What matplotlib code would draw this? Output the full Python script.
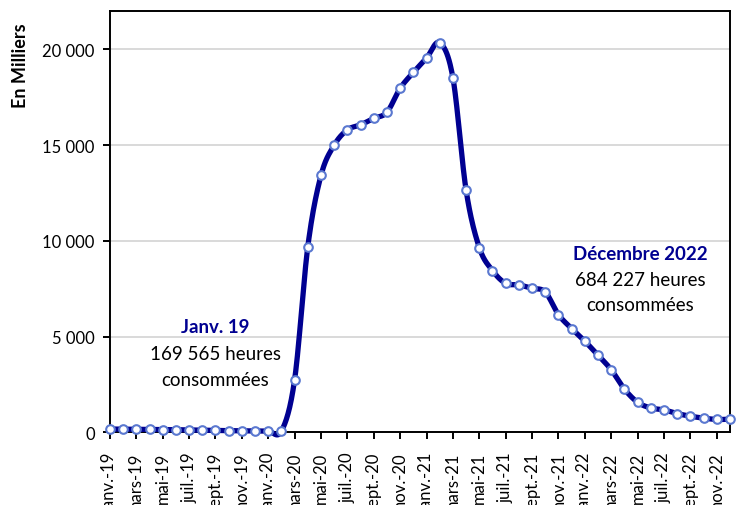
import numpy as np
import matplotlib.pyplot as plt
from matplotlib.ticker import FuncFormatter

plt.rcParams['font.family'] = ['Lato', 'DejaVu Sans']

# heures consommées par mois, en milliers (janv.-19 -> déc.-22)
heures = [170, 160, 155, 150, 145, 135, 120, 110, 95, 85, 80, 75, 70, 60,
          2750, 9700, 13420, 15000, 15800, 16060, 16400, 16720, 17970, 18800,
          19550, 20350, 18520, 12650, 9650, 8450, 7780, 7700, 7520, 7330,
          6150, 5420, 4760, 4030, 3270, 2260, 1570, 1270, 1170, 980,
          840, 740, 670, 684]

etiquettes = ['janv.-19', 'mars-19', 'mai-19', 'juil.-19', 'sept.-19', 'nov.-19',
              'janv.-20', 'mars-20', 'mai-20', 'juil.-20', 'sept.-20', 'nov.-20',
              'janv.-21', 'mars-21', 'mai-21', 'juil.-21', 'sept.-21', 'nov.-21',
              'janv.-22', 'mars-22', 'mai-22', 'juil.-22', 'sept.-22', 'nov.-22']

bleu = '#000091'


def lisse(y, n=24):
    # courbe lissée façon Excel (Catmull-Rom) passant par les points
    y = np.asarray(y, float)
    x = np.arange(len(y), dtype=float)
    px = np.concatenate([[2 * x[0] - x[1]], x, [2 * x[-1] - x[-2]]])
    py = np.concatenate([[2 * y[0] - y[1]], y, [2 * y[-1] - y[-2]]])
    t = np.linspace(0, 1, n, endpoint=False)
    xs, ys = [], []
    for i in range(1, len(px) - 2):
        for p, out in ((px, xs), (py, ys)):
            p0, p1, p2, p3 = p[i - 1], p[i], p[i + 1], p[i + 2]
            out.append(0.5 * ((2 * p1) + (-p0 + p2) * t
                              + (2 * p0 - 5 * p1 + 4 * p2 - p3) * t ** 2
                              + (-p0 + 3 * p1 - 3 * p2 + p3) * t ** 3))
    xs.append([x[-1]])
    ys.append([y[-1]])
    return np.concatenate(xs), np.concatenate(ys)


fig = plt.figure(figsize=(7.41, 5.06), dpi=100)
ax = fig.add_axes([0.1484, 0.1437, 0.8366, 0.8323])

xs, ys = lisse(heures)
ax.plot(xs, ys, color=bleu, lw=3.8, clip_on=False, zorder=3, solid_capstyle='butt')
ax.plot(np.arange(len(heures)), heures, ls='none', marker='o', ms=6.2,
        mfc='white', mec='#5a78d0', mew=1.5, clip_on=False, zorder=4)

ax.set_xlim(0, len(heures) - 1)
ax.set_ylim(0, 22000)
ax.set_yticks([0, 5000, 10000, 15000, 20000])
ax.yaxis.set_major_formatter(FuncFormatter(lambda v, p: f"{int(v):,}".replace(',', ' ')))
ax.set_xticks(np.arange(0, len(heures), 2))
ax.set_xticklabels(etiquettes, rotation=90, va='top', ha='center')
ax.grid(axis='y', color='#d9d9d9', lw=1.4)
ax.set_axisbelow(True)
for s in ax.spines.values():
    s.set_linewidth(1.4)
ax.tick_params(axis='both', direction='out', length=5, width=1.4, labelsize=12, color='black')
ax.tick_params(axis='x', pad=9)
ax.tick_params(axis='y', pad=6)

fig.text(0.027, 1 - 66 / 506, 'En Milliers', rotation=90, va='center', ha='center',
         fontsize=13, fontweight='bold')

ax.text(8.0, 5540, 'Janv. 19', color=bleu, fontsize=13.5, fontweight='bold', ha='center', va='center')
ax.text(8.0, 4130, '169 565 heures', fontsize=13.5, ha='center', va='center')
ax.text(8.0, 2780, 'consommées', fontsize=13.5, ha='center', va='center')
ax.text(40.2, 9340, 'Décembre 2022', color=bleu, fontsize=13.5, fontweight='bold', ha='center', va='center')
ax.text(40.2, 7990, '684 227 heures', fontsize=13.5, ha='center', va='center')
ax.text(40.2, 6690, 'consommées', fontsize=13.5, ha='center', va='center')

fig.savefig('out.png', dpi=100)
